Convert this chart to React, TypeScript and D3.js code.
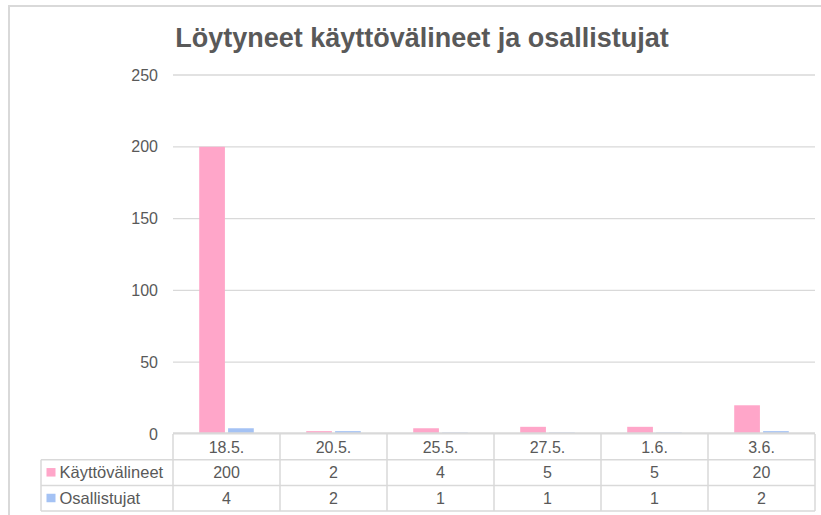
import * as d3 from "d3";
import React from "react";

const categories = ["18.5.", "20.5.", "25.5.", "27.5.", "1.6.", "3.6."];
const kayttovalineet = [200, 2, 4, 5, 5, 20];
const osallistujat = [4, 2, 1, 1, 1, 2];
const seriesNames = ["Käyttövälineet", "Osallistujat"];
const seriesColors = ["#FFA6C9", "#A4C2F4"];
const yTicks = [0, 50, 100, 150, 200, 250];

const W = 821;
const H = 515;
const font = "'Liberation Sans', Arial, sans-serif";
const textColor = "#595959";
const lineColor = "#d9d9d9";

export default function App() {
  const plot = { left: 173, right: 815, top: 75, bottom: 434 };
  const tableLeft = 41;
  const rowH = 25.7;

  const x = d3.scaleBand().domain(categories).range([plot.left, plot.right]);
  const sub = d3
    .scaleBand()
    .domain(seriesNames)
    .range([x.bandwidth() * 0.245, x.bandwidth() * 0.755])
    .paddingInner(0.11);
  const y = d3.scaleLinear().domain([0, 250]).range([plot.bottom, plot.top]);

  const series = [kayttovalineet, osallistujat];

  return (
    <svg
      width={W}
      height={H}
      style={{ position: "absolute", left: 0, top: 0, display: "block", background: "#fff" }}
    >
      {/* chart frame, cut by the window on the right and bottom */}
      <rect x={9} y={6} width={W + 10} height={H + 10} fill="none" stroke={lineColor} strokeWidth={2} />

      <text
        x={422}
        y={47}
        textAnchor="middle"
        fontFamily={font}
        fontSize={27}
        fontWeight="bold"
        fill={textColor}
      >
        Löytyneet käyttövälineet ja osallistujat
      </text>

      {yTicks.map((t) => (
        <g key={t}>
          {t > 0 && (
            <line x1={plot.left} x2={plot.right} y1={y(t)} y2={y(t)} stroke={lineColor} strokeWidth={1.3} />
          )}
          <text
            x={158}
            y={y(t)}
            dy="0.35em"
            textAnchor="end"
            fontFamily={font}
            fontSize={16}
            fill={textColor}
          >
            {t}
          </text>
        </g>
      ))}

      {categories.map((c, i) => (
        <g key={c} transform={`translate(${x(c)},0)`}>
          {series.map((vals, s) => (
            <rect
              key={s}
              x={sub(seriesNames[s])}
              y={y(vals[i])}
              width={sub.bandwidth()}
              height={plot.bottom - y(vals[i])}
              fill={seriesColors[s]}
            />
          ))}
        </g>
      ))}

      {/* data table */}
      <g fill="none" stroke={lineColor} strokeWidth={1.5}>
        <line x1={plot.left} x2={plot.right} y1={plot.bottom - 0.6} y2={plot.bottom - 0.6} strokeWidth={2.2} />
        {[1, 2, 3].map((r) => (
          <line
            key={r}
            x1={tableLeft}
            x2={plot.right}
            y1={plot.bottom + r * rowH}
            y2={plot.bottom + r * rowH}
          />
        ))}
        <line x1={tableLeft} x2={tableLeft} y1={plot.bottom + rowH} y2={plot.bottom + 3 * rowH} />
        {categories.map((c) => (
          <line key={c} x1={x(c)} x2={x(c)} y1={plot.bottom} y2={plot.bottom + 3 * rowH} />
        ))}
        <line x1={plot.right} x2={plot.right} y1={plot.bottom} y2={plot.bottom + 3 * rowH} />
      </g>

      {categories.map((c, i) => (
        <g key={c} fontFamily={font} fontSize={16} fill={textColor} textAnchor="middle">
          <text x={(x(c) || 0) + x.bandwidth() / 2} y={plot.bottom + rowH / 2} dy="0.36em">
            {c}
          </text>
          {series.map((vals, s) => (
            <text
              key={s}
              x={(x(c) || 0) + x.bandwidth() / 2}
              y={plot.bottom + rowH * (s + 1.5)}
              dy="0.36em"
            >
              {vals[i]}
            </text>
          ))}
        </g>
      ))}

      {seriesNames.map((n, s) => (
        <g key={n}>
          <rect
            x={46.5}
            y={plot.bottom + rowH * (s + 1.5) - 4.5}
            width={9}
            height={8.5}
            fill={seriesColors[s]}
          />
          <text
            x={59.5}
            y={plot.bottom + rowH * (s + 1.5)}
            dy="0.36em"
            fontFamily={font}
            fontSize={16.5}
            fill={textColor}
          >
            {n}
          </text>
        </g>
      ))}
    </svg>
  );
}
